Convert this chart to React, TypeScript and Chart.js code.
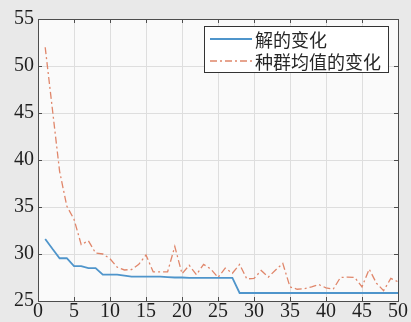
import React, { useEffect, useRef } from "react";
import { Chart, registerables } from "chart.js";

Chart.register(...registerables);

const iterations = [
  1, 2, 3, 4, 5, 6, 7, 8, 9, 10, 11, 12, 13, 14, 15, 16, 17, 18, 19, 20, 21, 22, 23, 24, 25,
  26, 27, 28, 29, 30, 31, 32, 33, 34, 35, 36, 37, 38, 39, 40, 41, 42, 43, 44, 45, 46, 47, 48, 49, 50,
];

const bestSolution = [
  31.6, 30.55, 29.55, 29.55, 28.7, 28.7, 28.5, 28.5, 27.8, 27.8, 27.8, 27.7, 27.6, 27.6, 27.6, 27.6,
  27.6, 27.55, 27.5, 27.5, 27.45, 27.45, 27.45, 27.45, 27.45, 27.45, 27.45, 25.85, 25.85, 25.85,
  25.85, 25.85, 25.85, 25.85, 25.85, 25.85, 25.85, 25.85, 25.85, 25.85, 25.85, 25.85, 25.85, 25.85,
  25.85, 25.85, 25.85, 25.85, 25.85, 25.85,
];

const populationMean = [
  52.0, 45.4, 38.8, 35.1, 33.7, 31.0, 31.4, 30.1, 30.0, 29.5, 28.6, 28.3, 28.35, 28.9, 29.9, 28.1,
  28.1, 28.1, 30.8, 27.9, 28.8, 27.8, 28.9, 28.4, 27.5, 28.5, 27.95, 28.9, 27.35, 27.4, 28.25, 27.55,
  28.3, 29.0, 26.5, 26.25, 26.3, 26.5, 26.75, 26.4, 26.25, 27.5, 27.55, 27.5, 26.5, 28.4, 26.9, 26.1,
  27.4, 27.05,
];

const seriesLabels = ["解的变化", "种群均值的变化"];
const xTicks = [0, 5, 10, 15, 20, 25, 30, 35, 40, 45, 50];
const yTicks = [25, 30, 35, 40, 45, 50, 55];

const BLUE = "#4f95cb";
const RED = "#e0866a";
const RED_DASH = [7, 3, 2, 3];

export default function App() {
  const ref = useRef<HTMLCanvasElement | null>(null);

  useEffect(() => {
    document.body.style.margin = "0";
    const canvas = ref.current;
    if (!canvas) return;

    const framePlugin = {
      id: "frame",
      beforeDraw(chart: any) {
        const { ctx, chartArea: a } = chart;
        ctx.save();
        ctx.fillStyle = "#e9e9e9";
        ctx.fillRect(0, 0, chart.width, chart.height);
        ctx.fillStyle = "#fafafa";
        ctx.fillRect(a.left, a.top, a.right - a.left, a.bottom - a.top);
        ctx.restore();
      },
      afterDraw(chart: any) {
        const { ctx, chartArea: a, scales } = chart;
        ctx.save();
        ctx.strokeStyle = "#4d4d4d";
        ctx.lineWidth = 1;
        ctx.strokeRect(Math.round(a.left) + 0.5, Math.round(a.top) + 0.5, Math.round(a.right - a.left), Math.round(a.bottom - a.top));
        const tl = 4;
        ctx.beginPath();
        xTicks.forEach((t) => {
          const x = Math.round(scales.x.getPixelForValue(t)) + 0.5;
          ctx.moveTo(x, a.bottom);
          ctx.lineTo(x, a.bottom - tl);
          ctx.moveTo(x, a.top);
          ctx.lineTo(x, a.top + tl);
        });
        yTicks.forEach((t) => {
          const y = Math.round(scales.y.getPixelForValue(t)) + 0.5;
          ctx.moveTo(a.left, y);
          ctx.lineTo(a.left + tl, y);
          ctx.moveTo(a.right, y);
          ctx.lineTo(a.right - tl, y);
        });
        ctx.stroke();

        // legend box
        const bx = 204.5, by = 26.5, bw = 184, bh = 46;
        ctx.fillStyle = "#ffffff";
        ctx.fillRect(bx, by, bw, bh);
        ctx.strokeStyle = "#333333";
        ctx.strokeRect(bx, by, bw, bh);
        const rows = [39, 61];
        chart.data.datasets.forEach((ds: any, i: number) => {
          ctx.beginPath();
          ctx.strokeStyle = ds.borderColor;
          ctx.lineWidth = ds.borderWidth;
          ctx.setLineDash(ds.borderDash || []);
          ctx.moveTo(210, rows[i]);
          ctx.lineTo(252, rows[i]);
          ctx.stroke();
          ctx.setLineDash([]);
          ctx.fillStyle = "#262626";
          ctx.font = '18px "Noto Sans CJK SC"';
          ctx.textBaseline = "middle";
          ctx.textAlign = "left";
          ctx.fillText(ds.label, 255, rows[i] + 1);
        });
        ctx.restore();
      },
    };

    const chart = new Chart(canvas, {
      type: "line",
      data: {
        datasets: [
          {
            label: seriesLabels[0],
            data: iterations.map((x, i) => ({ x, y: bestSolution[i] })),
            borderColor: BLUE,
            borderWidth: 1.8,
            pointRadius: 0,
            tension: 0,
          },
          {
            label: seriesLabels[1],
            data: iterations.map((x, i) => ({ x, y: populationMean[i] })),
            borderColor: RED,
            borderWidth: 1.3,
            borderDash: RED_DASH,
            pointRadius: 0,
            tension: 0,
          },
        ],
      },
      options: {
        animation: false,
        responsive: false,
        events: [],
        layout: { padding: { left: 0, right: 13, top: 19, bottom: 0 } },
        plugins: { legend: { display: false }, tooltip: { enabled: false } },
        scales: {
          x: {
            type: "linear",
            min: 0,
            max: 50,
            afterFit: (s: any) => {
              s.height = 21;
            },
            afterBuildTicks: (s: any) => {
              s.ticks = xTicks.map((v) => ({ value: v }));
            },
            grid: { color: "#dedede", drawTicks: false },
            border: { display: false },
            ticks: {
              padding: 0,
              color: "#1f1f1f",
              font: { family: "Liberation Serif", size: 20, lineHeight: 1.1 },
              maxRotation: 0,
            },
          },
          y: {
            type: "linear",
            min: 25,
            max: 55,
            afterFit: (s: any) => {
              s.width = 38;
            },
            afterBuildTicks: (s: any) => {
              s.ticks = yTicks.map((v) => ({ value: v }));
            },
            grid: { color: "#dedede", drawTicks: false },
            border: { display: false },
            ticks: {
              padding: 4,
              color: "#1f1f1f",
              font: { family: "Liberation Serif", size: 20 },
            },
          },
        },
      },
      plugins: [framePlugin],
    });

    return () => chart.destroy();
  }, []);

  return <canvas ref={ref} width={411} height={322} style={{ display: "block", width: 411, height: 322 }} />;
}
